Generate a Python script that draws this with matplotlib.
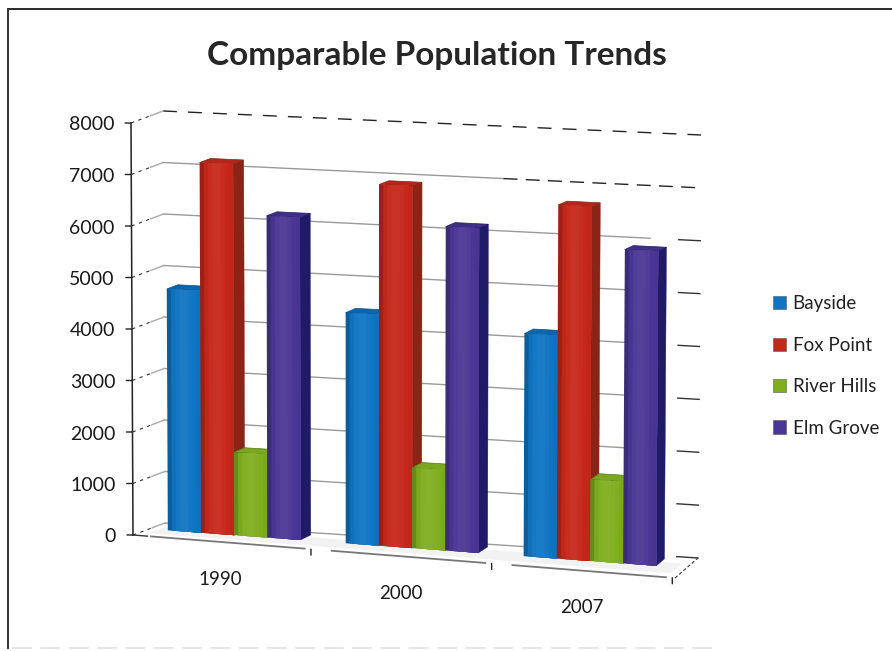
import numpy as np
import matplotlib
matplotlib.use('Agg')
import matplotlib.pyplot as plt
from matplotlib.lines import Line2D
from matplotlib.patches import Patch
from matplotlib.transforms import Transform

# values
years = ['1990', '2000', '2007']
towns = ['Bayside', 'Fox Point', 'River Hills', 'Elm Grove']
bayside = [4680, 4410, 4200]
fox_point = [7160, 6890, 6660]
river_hills = [1600, 1530, 1530]
elm_grove = [6190, 6150, 5880]
y_ticks = [0, 1000, 2000, 3000, 4000, 5000, 6000, 7000, 8000]

colors = ['#0f74c2', '#c5281a', '#7fae1f', '#4a3795']
side_colors = ['#0a4f88', '#8a2416', '#55761a', '#201b66']
top_colors = ['#0b66ad', '#b3261a', '#7aa71f', '#3e3185']

# pixel position of the 3d box corners: CORNERS[u][v][depth]
CORNERS = np.array([[[[133, 535], [165, 523]], [[131, 123], [163, 111]]],
                    [[[675, 578], [698, 558]], [[678, 143], [701, 135]]]], dtype=float)
FIG_W, FIG_H = 892, 651
U_MAX, V_MAX = 3.0, 8000.0


class BoxProj(Transform):
    # maps one face of the 3d box to the screen, the trilinear form keeps box edges straight
    input_dims = 2
    output_dims = 2

    def __init__(self, fixed, value):
        super().__init__()
        self.fixed = fixed
        self.value = value

    def transform_non_affine(self, xy):
        xy = np.asarray(xy, dtype=float)
        a, b = xy[:, 0], xy[:, 1]
        k = np.full_like(a, self.value)
        if self.fixed == 'depth':
            u, v, d = a, b, k
        elif self.fixed == 'u':
            d, v, u = a, b, k
        else:
            u, d, v = a, b, k
        u = u / U_MAX
        v = v / V_MAX
        out = np.zeros_like(xy)
        for i in (0, 1):
            wu = u if i else 1 - u
            for j in (0, 1):
                wv = v if j else 1 - v
                for m in (0, 1):
                    wd = d if m else 1 - d
                    w = wu * wv * wd
                    out[:, 0] += w * CORNERS[i, j, m, 0]
                    out[:, 1] += w * CORNERS[i, j, m, 1]
        out[:, 1] = FIG_H - out[:, 1]
        return out


def shade(color, f):
    rgb = np.array(matplotlib.colors.to_rgb(color))
    if f > 1:
        return tuple(rgb + (1 - rgb) * (f - 1))
    return tuple(rgb * f)


def draw_bar(ax, u0, w, val, i):
    d0, d1 = 0.5, 0.85
    # top
    ax.bar(u0, d1 - d0, width=w, bottom=d0, align='edge', color=top_colors[i],
           edgecolor=side_colors[i], linewidth=0.5, transform=BoxProj('v', val), zorder=3)
    # side
    ax.bar(d0, val, width=d1 - d0, align='edge', color=side_colors[i],
           edgecolor=side_colors[i], linewidth=0.3, transform=BoxProj('u', u0 + w), zorder=3)
    # front, cut in strips for the soft gradient, each strip runs under the next one
    shades = [0.8, 0.97, 1.03, 1.05, 1.05, 1.03, 1.0, 0.97]
    sw = w / len(shades)
    for k, f in enumerate(shades):
        ax.bar(u0 + k * sw, val, width=w - k * sw, align='edge', color=shade(colors[i], f),
               linewidth=0, transform=BoxProj('depth', d0), zorder=3)


fig = plt.figure(figsize=(FIG_W / 100, FIG_H / 100), dpi=100)
plt.rcParams['font.family'] = ['Lato', 'DejaVu Sans']
ax = fig.add_axes([0, 0, 1, 1])
ax.set_xlim(0, U_MAX)
ax.set_ylim(0, V_MAX)
ax.axis('off')

back = BoxProj('depth', 1.0)
front = BoxProj('depth', 0.0)
left = BoxProj('u', 0.0)
floor = BoxProj('v', 0.0)

# back wall grid, it fades out in the scan towards the top and the right
for v in y_ticks:
    if v == 8000:
        ax.plot([0, U_MAX], [v, v], color='#222222', lw=1.0, ls=(0, (10, 8)), transform=back)
    elif v == 7000:
        ax.plot([0, 1.9], [v, v], color='#999999', lw=1.0, transform=back)
        ax.plot([1.9, U_MAX], [v, v], color='#222222', lw=1.0, ls=(0, (10, 6)), transform=back)
    else:
        ax.plot([0, 2.72], [v, v], color='#9a9a9a', lw=1.0, transform=back)
        ax.plot([2.88, U_MAX], [v, v], color='#333333', lw=1.0, transform=back)
    ax.plot([0, 0.6], [v, v], color='#333333', lw=0.8, ls=(0, (3, 4)), transform=left)
    ax.plot([0.6, 1], [v, v], color='#aaaaaa', lw=1.0, transform=left)

# floor shadow and edges
ax.bar(0.05, 0.5, width=U_MAX - 0.1, bottom=0.2, align='edge', color='#f2f2f2',
       linewidth=0, transform=floor)
ax.plot([0, 0.08], [0, 0], color='#333333', lw=1.0, transform=front)
for g in range(3):
    ax.plot([g + 0.1, g + 0.95], [0, 0], color='#777777', lw=1.3, transform=front)
ax.plot([0, 1], [0, 0], color='#333333', lw=0.8, ls=(0, (3, 2)), transform=BoxProj('u', U_MAX))

# axis line and ticks
ax.plot([0, 0], [0, V_MAX], color='#222222', lw=1.1, transform=front)
for v in y_ticks:
    ax.annotate('', xy=(0, v), xycoords=front, xytext=(-6, 0), textcoords='offset pixels',
                arrowprops=dict(arrowstyle='-', color='#222222', lw=1, shrinkA=0, shrinkB=0))
    ax.annotate(str(v), xy=(0, v), xycoords=front, xytext=(-17, -2), textcoords='offset pixels',
                ha='right', va='center', fontsize=14, color='#1a1a1a')
for g in range(1, 4):
    ax.annotate('', xy=(g - 0.015, 0), xycoords=front, xytext=(0, -6), textcoords='offset pixels',
                arrowprops=dict(arrowstyle='-', color='#222222', lw=1, shrinkA=0, shrinkB=0))

# bars, left to right so each one covers the side of the one before
series = [bayside, fox_point, river_hills, elm_grove]
bar_w = 0.185
for g in range(len(years)):
    u_start = 0.105 + g * 0.993
    for i, vals in enumerate(series):
        draw_bar(ax, u_start + i * bar_w, bar_w, vals[g], i)

for g, year in enumerate(years):
    ax.annotate(year, xy=(g + 0.5, 0), xycoords=front, xytext=(-3, -37), textcoords='offset pixels',
                ha='center', va='center', fontsize=13.5, color='#1a1a1a')

handles = [Patch(facecolor=c, edgecolor='#555555', linewidth=0.4) for c in colors]
ax.legend(handles, towns, loc='center left', bbox_to_anchor=(773 / FIG_W, 1 - 366 / FIG_H),
          bbox_transform=fig.transFigure, frameon=False, fontsize=13.5, handlelength=0.7,
          handleheight=0.7, handletextpad=0.35, labelspacing=1.3, borderpad=0, borderaxespad=0,
          labelcolor='#222222')

fig.text(437 / FIG_W, 1 - 55 / FIG_H, 'Comparable Population Trends', ha='center', va='center',
         fontsize=24, fontweight='bold', color='#262626')

# scanned frame of the page
fig.add_artist(Line2D([8 / FIG_W, 1], [1 - 9 / FIG_H] * 2, color='#2a2a2a', lw=1.4))
fig.add_artist(Line2D([8 / FIG_W, 8 / FIG_W], [1 - 9 / FIG_H, 1 - 648 / FIG_H], color='#333333', lw=1.4))
fig.add_artist(Line2D([12 / FIG_W, 720 / FIG_W], [1 - 648 / FIG_H] * 2, color='#e2e2e2', lw=1.2,
                      ls=(0, (12, 5))))

fig.savefig('out.png', dpi=100)
